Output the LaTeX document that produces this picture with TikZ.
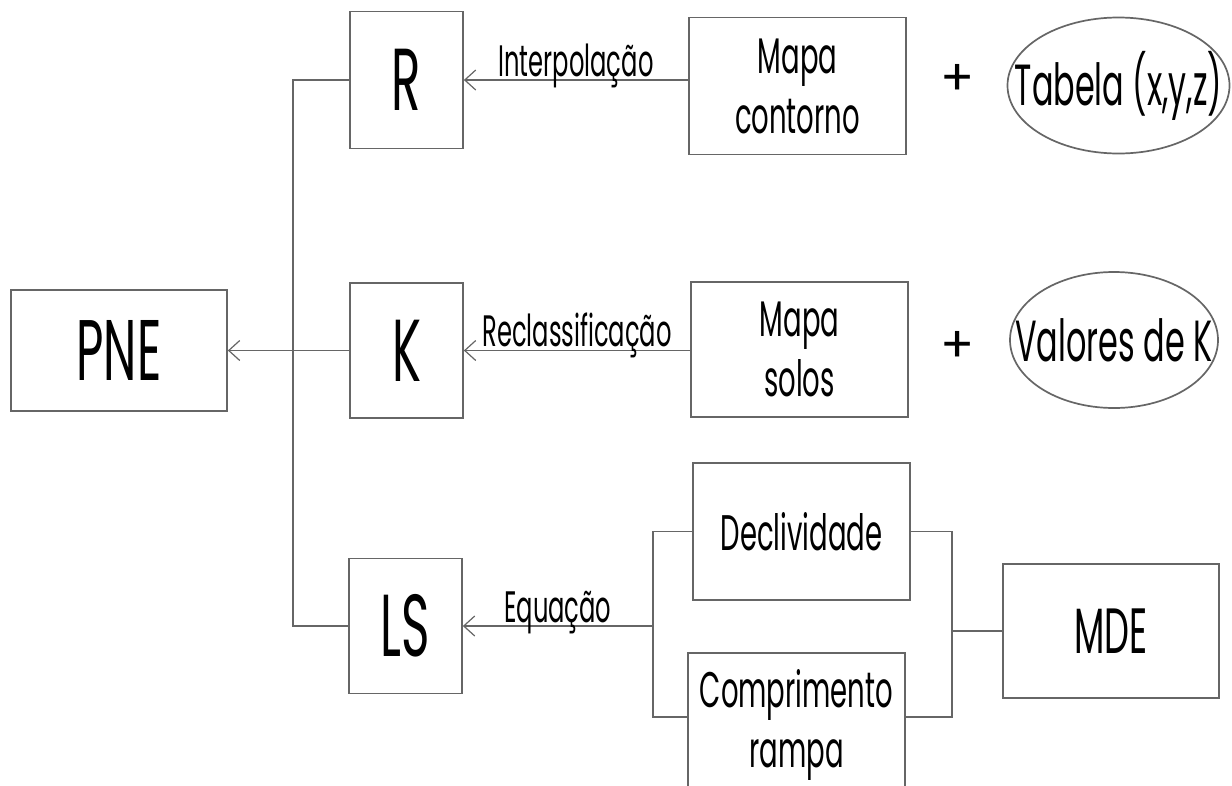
\documentclass[tikz,border=0pt]{standalone}
\usepackage{fontspec}
\newfontfamily\gothic[FakeStretch=0.55]{Poppins}
\newfontfamily\plainfont{Poppins}
\usetikzlibrary{arrows.meta,positioning,shapes.geometric}
\newcommand{\gfont}[2]{\gothic\fontsize{#1}{#2}\selectfont}

\begin{document}
\begin{tikzpicture}[
  x=1pt, y=-1pt,
  line/.style={draw=black!60, line width=1.7pt},
  arrow/.style={line, -{Straight Barb[length=11pt,width=20pt,line width=1.2pt]}},
  box/.style={rectangle, line, inner sep=0pt, align=center},
  letter/.style={box, minimum width=113pt, minimum height=137pt, font=\gfont{88}{96}},
  mapbox/.style={box, minimum width=217pt, minimum height=137pt, font=\gfont{50}{60}},
  oval/.style={ellipse, line, inner sep=0pt, minimum width=222pt, minimum height=136pt},
  ovaltext/.style={font=\gfont{58}{64}},
  plus/.style={font=\plainfont\fontsize{50}{54}\selectfont},
  lab/.style={anchor=base, yshift=4pt, font=\gfont{44}{50}}
]
\clip (0,0) rectangle (1232,785);
\fill[white] (0,0) rectangle (1232,785);

% result and the three factors
\node[box, minimum width=216pt, minimum height=121pt, font=\gfont{86}{90}] (pne) at (119,350.5) {PNE};
\node[letter] (r) at (406.5,80) {R};
\node[letter, minimum height=135pt] (k) at (406.5,350.5) {K};
\node[letter, minimum height=135pt] (ls) at (405.5,626) {LS};

% source maps
\node[mapbox] (contorno) at (797.5,86) {Mapa\\contorno};
\node[mapbox, minimum height=135pt] (solos) at (799.5,349.5) {Mapa\\solos};
\node[mapbox] (decl) at (801.5,531.5) {Declividade};
\node[mapbox, minimum height=144pt] (comp) at (796.5,725) {Comprimento\\rampa};
\node[box, minimum width=216pt, minimum height=134pt, font=\gfont{64}{70}] (mde) at (1111,631) {MDE};

% extra inputs
\node[plus] (plusr) at (958,80) {+};
\node[plus] (plusk) at (958,347) {+};
\node[oval, label={[ovaltext]center:{Tabela (x,y,z)}}] (tab) at (1118.5,85.5) {};
\node[oval, minimum width=208pt] (val) at (1114,340) {};
\node[ovaltext] at (val.center) {Valores de K};

% connectors
\draw[line] (r.west) -- ++(-56,0) |- (ls.west);
\draw[arrow] (k.west) -- (pne.east);
\draw[arrow] (contorno.west |- r.east) -- node[lab]{Interpolação} (r.east);
\draw[arrow] (solos.west |- k.east) -- node[lab]{Reclassificação} (k.east);

\coordinate[right=190pt of ls.east] (lsplit);
\coordinate[left=50pt of mde.west] (rsplit);
\draw[arrow] (lsplit) -- node[lab]{Equação} (ls.east);
\draw[line] (decl.west) -| (lsplit) |- ([yshift=8pt]comp.west);
\draw[line] (decl.east) -| (rsplit) |- ([yshift=8pt]comp.east);
\draw[line] (rsplit) -- (mde.west);

\end{tikzpicture}
\end{document}
